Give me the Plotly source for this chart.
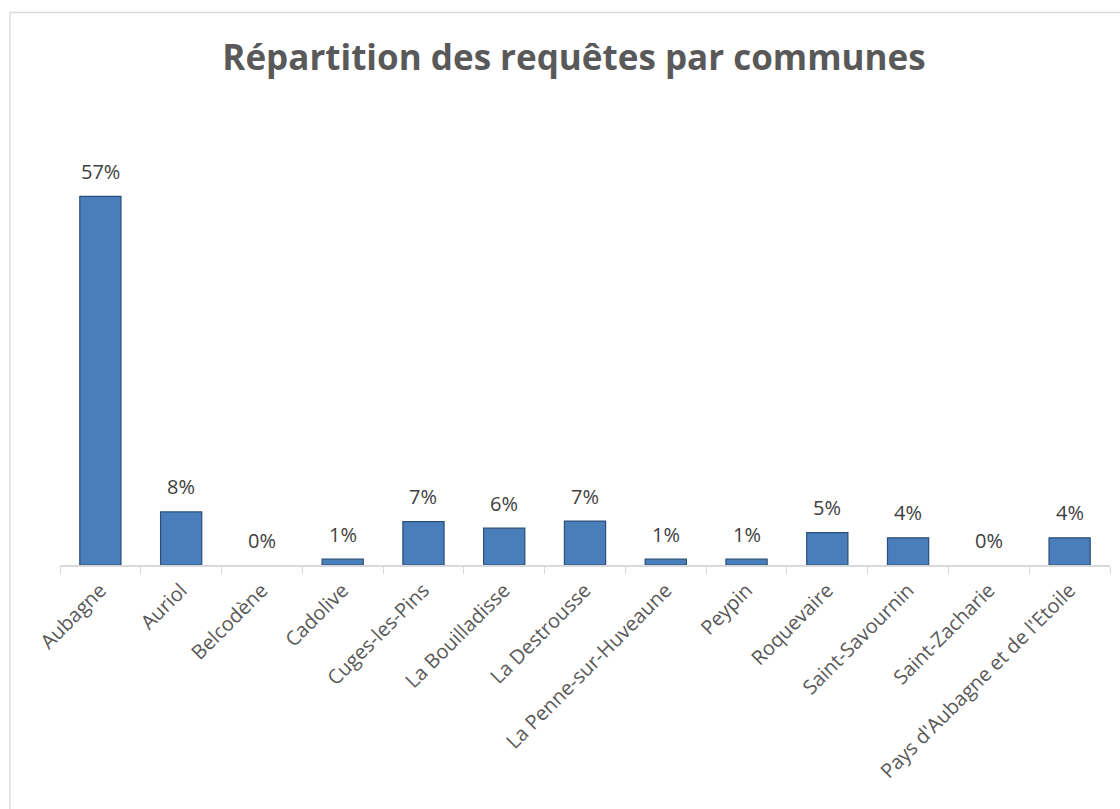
import plotly.graph_objects as go

communes = ["Aubagne", "Auriol", "Belcodène", "Cadolive", "Cuges-les-Pins",
            "La Bouilladisse", "La Destrousse", "La Penne-sur-Huveaune", "Peypin",
            "Roquevaire", "Saint-Savournin", "Saint-Zacharie",
            "Pays d'Aubagne et de l'Etoile"]
parts = [0.570, 0.082, 0.0, 0.009, 0.067, 0.057, 0.068, 0.009, 0.009,
         0.050, 0.042, 0.0, 0.042]
title_text = "Répartition des requêtes par communes"

line_widths = [1.2 if v > 0 else 0 for v in parts]

fig = go.Figure()
fig.add_trace(go.Bar(
    x=communes, y=parts,
    width=0.51,
    marker=dict(color="#4A7EBB", line=dict(color="#2B4E78", width=line_widths)),
    hovertemplate="%{x}: %{y:.0%}<extra></extra>",
))

annotations = [
    dict(x=c, y=v, xref="x", yref="y", text=f"{v:.0%}", showarrow=False,
         yanchor="middle", yshift=25,
         font=dict(family="Open Sans", size=20, color="#404040"))
    for c, v in zip(communes, parts)
]

fig.update_layout(
    width=1120, height=809,
    margin=dict(l=60, r=10, t=177, b=244),
    paper_bgcolor="white", plot_bgcolor="white",
    showlegend=False,
    annotations=annotations,
    title=dict(text="<b>" + title_text + "</b>", x=574 / 1120, xanchor="center",
               y=1 - 58 / 809, yanchor="middle", yref="container",
               font=dict(family="Open Sans", size=35, color="#595959")),
    xaxis=dict(
        type="category", tickangle=-45,
        showline=True, linecolor="#D9D9D9", linewidth=1.5,
        ticks="outside", tickson="boundaries", ticklen=7, tickcolor="#D9D9D9",
        ticklabelstandoff=4,
        tickfont=dict(family="Open Sans", size=20, color="#595959"),
        showgrid=False,
    ),
    yaxis=dict(range=[0, 0.6], visible=False, showgrid=False),
    shapes=[dict(type="rect", xref="paper", yref="paper",
                 x0=-50 / 1050, x1=1130 / 1050,
                 y0=-260 / 388, y1=(565 - 12.5) / 388,
                 line=dict(color="#D9D9D9", width=1.3))],
)

fig.write_html("out.html")
